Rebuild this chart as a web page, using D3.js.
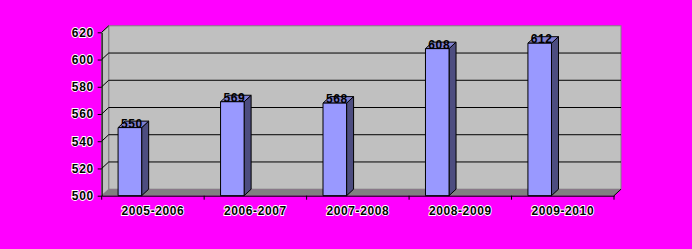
<!DOCTYPE html>
<html>
<head>
<meta charset="utf-8">
<script src="https://cdn.jsdelivr.net/npm/d3@7"></script>
<style>
  body { margin: 0; background: #ff00ff; }
  svg { display: block; }
  .lbl { font-family: Arial, "Liberation Sans", sans-serif; font-size: 12px; font-weight: bold;
         letter-spacing: 0.6px; fill: #000; stroke: #fff; stroke-width: 1.8px; paint-order: stroke; }
</style>
</head>
<body>
<script>
const categories = ["2005-2006", "2006-2007", "2007-2008", "2008-2009", "2009-2010"];
const values = [550, 569, 568, 608, 612];
const yTicks = [500, 520, 540, 560, 580, 600, 620];

const W = 692, H = 249;
// front plane of the 3d box, and the depth shift to the back wall
const pLeft = 101.7, pRight = 614, pTop = 32.3, pBottom = 195.7;
const dx = 7, dy = -6.5;

const svg = d3.select("body").append("svg")
    .attr("width", W)
    .attr("height", H);

svg.append("rect").attr("width", W).attr("height", H).attr("fill", "#ff00ff");

const x = d3.scaleBand()
    .domain(categories)
    .range([pLeft, pRight]);

const y = d3.scaleLinear()
    .domain([500, 620])
    .range([pBottom, pTop]);

const pts = a => a.map(p => p.join(",")).join(" ");

// back wall
svg.append("rect")
    .attr("x", pLeft + dx).attr("y", pTop + dy)
    .attr("width", pRight - pLeft).attr("height", pBottom - pTop)
    .attr("fill", "#c0c0c0").attr("stroke", "#808080").attr("stroke-width", 1);

// side wall
svg.append("polygon")
    .attr("points", pts([[pLeft, pTop], [pLeft + dx, pTop + dy], [pLeft + dx, pBottom + dy], [pLeft, pBottom]]))
    .attr("fill", "#c0c0c0").attr("stroke", "#808080").attr("stroke-width", 1);

// floor
svg.append("polygon")
    .attr("points", pts([[pLeft, pBottom], [pLeft + dx, pBottom + dy], [pRight + dx, pBottom + dy], [pRight, pBottom]]))
    .attr("fill", "#808080");

// gridlines on walls
const grid = svg.append("g").attr("stroke", "#000").attr("stroke-width", 1);
yTicks.slice(1, -1).forEach(t => {
  grid.append("line")
      .attr("x1", pLeft + dx).attr("x2", pRight + dx)
      .attr("y1", y(t) + dy).attr("y2", y(t) + dy);
});
yTicks.slice(1).forEach(t => {
  grid.append("line")
      .attr("x1", pLeft).attr("x2", pLeft + dx)
      .attr("y1", y(t)).attr("y2", y(t) + dy);
});

// bars
const bw = x.bandwidth() * 0.23, off = x.bandwidth() * 0.16;
const rows = categories.map((c, i) => ({ c, v: values[i] }));
const bars = svg.selectAll(".bar")
    .data(rows)
  .enter().append("g").attr("class", "bar")
    .attr("stroke", "#000").attr("stroke-width", 1).attr("stroke-linejoin", "round");

bars.append("polygon")  // side face
    .attr("points", d => {
      const x1 = x(d.c) + off + bw, yt = y(d.v);
      return pts([[x1, yt], [x1 + dx, yt + dy], [x1 + dx, pBottom + dy], [x1, pBottom]]);
    })
    .attr("fill", "#4d4d80");

bars.append("polygon")  // top face
    .attr("points", d => {
      const x0 = x(d.c) + off, yt = y(d.v);
      return pts([[x0, yt], [x0 + dx, yt + dy], [x0 + bw + dx, yt + dy], [x0 + bw, yt]]);
    })
    .attr("fill", "#8080d0");

bars.append("rect")  // front face
    .attr("x", d => x(d.c) + off)
    .attr("y", d => y(d.v))
    .attr("width", bw)
    .attr("height", d => pBottom - y(d.v))
    .attr("fill", "#9999ff");

// value labels
svg.selectAll(".val")
    .data(rows)
  .enter().append("text")
    .attr("class", "lbl val")
    .attr("x", d => x(d.c) + off + bw / 2 + 2)
    .attr("y", d => y(d.v))
    .attr("text-anchor", "middle")
    .style("stroke", "none")
    .text(d => d.v);

// y axis
const yAxis = svg.append("g")
    .attr("transform", "translate(" + pLeft + ",0)")
    .call(d3.axisLeft(y).tickValues(yTicks).tickSize(4).tickPadding(4).tickSizeOuter(0));
yAxis.selectAll("path, line").attr("stroke", "#000");
yAxis.selectAll("text").attr("class", "lbl");
yAxis.attr("font-family", null).attr("font-size", null);

// x axis
const xAxis = svg.append("g")
    .attr("transform", "translate(0," + pBottom + ")")
    .call(d3.axisBottom(x).tickSize(0).tickPadding(11).tickSizeOuter(0));
xAxis.selectAll("path").attr("stroke", "#000");
xAxis.selectAll("text").attr("class", "lbl");
xAxis.attr("font-family", null).attr("font-size", null);
xAxis.selectAll(".bound")
    .data(categories.map(c => x(c)).concat([pRight]))
  .enter().append("line")
    .attr("class", "bound")
    .attr("x1", d => d).attr("x2", d => d)
    .attr("y1", 0).attr("y2", 4)
    .attr("stroke", "#000");

// right edge of floor
svg.append("line")
    .attr("x1", pRight).attr("y1", pBottom)
    .attr("x2", pRight + dx).attr("y2", pBottom + dy)
    .attr("stroke", "#000");
</script>
</body>
</html>
